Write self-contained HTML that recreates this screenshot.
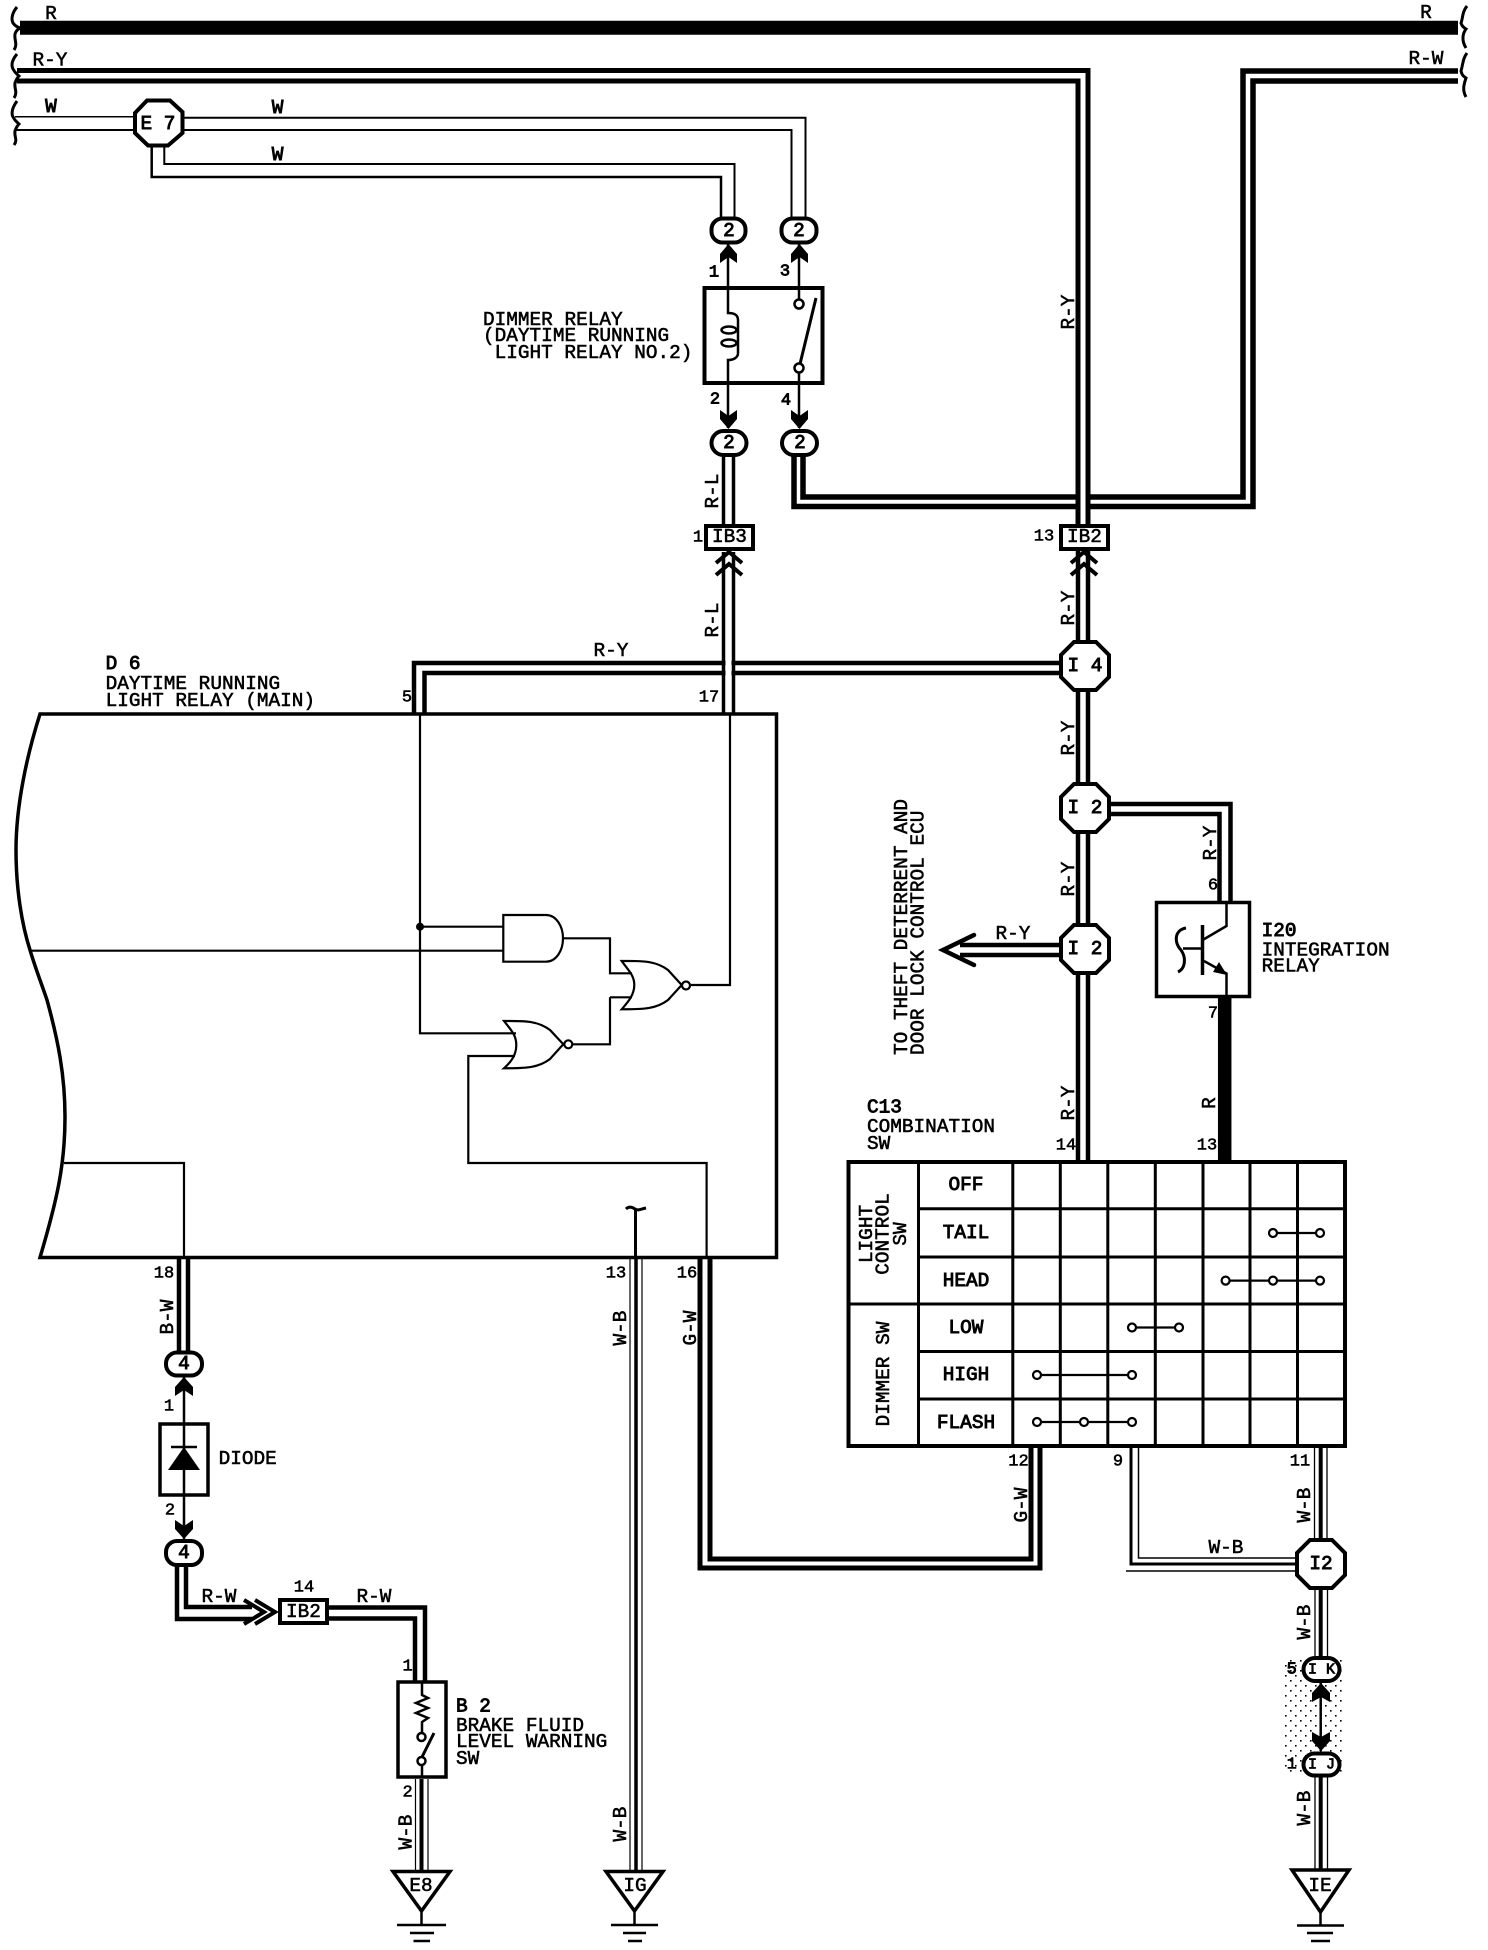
<!DOCTYPE html>
<html><head><meta charset="utf-8"><style>
html,body{margin:0;padding:0;background:#fff}
svg{display:block}
text{font-family:"Liberation Mono",monospace;font-size:19.4px;fill:#000;stroke:#000;stroke-width:.55;dominant-baseline:central}
.m{text-anchor:middle}
.b{stroke-width:.9}
.n{font-size:17px}
.k{font-size:15px;stroke-width:.8}
.w,.w path,.w line,.w polyline{fill:none;stroke:#000}
</style></head><body>
<svg width="1488" height="1950" viewBox="0 0 1488 1950" xmlns="http://www.w3.org/2000/svg">
<defs><pattern id="d" width="10" height="10" patternUnits="userSpaceOnUse"><rect width="1.6" height="1.6" fill="#000"/><rect x="5" y="5" width="1.6" height="1.6" fill="#000"/></pattern></defs>
<rect width="1488" height="1950" fill="#fff"/>

<!-- dotted area -->
<rect x="1284" y="1657" width="60" height="118" fill="url(#d)"/>

<g class="w">
<!-- braces -->
<g stroke-width="3">
<path d="M17 7 C12 13 11 19 13 23 C15 26 17 27 20 28 C17 30 16 31 15 34 C14 40 18 44 14 50"/>
<path d="M17 54 C12 60 11 65 13 69 C15 73 17 74 19 76 C17 78 16 80 15 83 C14 89 18 92 14 98"/>
<path d="M17 101 C12 108 11 113 13 117 C15 121 17 122 19 124 C17 126 16 128 15 131 C14 137 18 140 14 145"/>
<path d="M1467 6 C1462 12 1463 18 1461 23 C1462 26 1463 27 1466 29 C1463 33 1461 40 1466 48"/>
<path d="M1467 53 C1463 58 1463 64 1461 71 C1462 75 1463 76 1466 78 C1464 84 1462 90 1466 97"/>
</g>
<!-- R bus -->
<line x1="20" y1="27.700" x2="1458" y2="27.700" stroke-width="14"/>
<!-- R-Y -->
<g stroke-width="5">
<path d="M17 70.500H1088V525"/>
<path d="M17 81H1078V525"/>
<path d="M1458 71H1243V497H803V430" stroke-width="5.500"/>
<path d="M1458 81H1253V506.500H794V455" stroke-width="5.500"/>
</g>
<!-- W -->
<path d="M15 116.700H135" stroke-width="1.500"/>
<path d="M15 130H135" stroke-width="2"/>
<path d="M182 117.700H805.500V217" stroke-width="2"/>
<path d="M182 130H791.500V217" stroke-width="2"/>
<path d="M164.300 146V164H734.500V217" stroke-width="2"/>
<path d="M151.700 146V177H721V217" stroke-width="2.500"/>
<!-- R-L -->
<path d="M723.500 453V526M733.500 453V526" stroke-width="3.500"/>
</g>
<!-- crossing R-Y / horizontal -->
<rect x="1080.500" y="490" width="5" height="20" fill="#fff"/>

<g class="w" stroke-width="4.500">
<path d="M1078 549V1161M1088 549V1161"/>
<path d="M1060 663H414V713"/>
<path d="M1060 673H424.500V713"/>
<path d="M1105 804H1230.500V901"/>
<path d="M1105 814H1219.500V901"/>
<path d="M1060 945H960M1060 955H960"/>
<path d="M974 935L943 950L974 965" stroke-linecap="round"/>
<line x1="1224.700" y1="997" x2="1224.700" y2="1161" stroke-width="13.500"/>
</g>
<rect x="725.500" y="655" width="6" height="24" fill="#fff"/>
<g class="w" stroke-width="3.500"><path d="M723.500 552V713M733.500 552V713"/></g>

<!-- double chevrons -->
<g class="w" stroke-width="4">
<polyline points="1071,563 1084,552 1097,563"/>
<polyline points="1071,575 1084,564 1097,575"/>
<polyline points="716,563 729,552 742,563"/>
<polyline points="716,575 729,564 742,575"/>
<polyline points="255,1600 275,1612 255,1624"/>
<polyline points="244,1600 264,1612 244,1624"/>
</g>

<!-- Dimmer relay -->
<rect x="704.500" y="288" width="118" height="95" fill="none" stroke="#000" stroke-width="4"/>
<g class="w" stroke-width="2.500">
<path d="M728 243V313C733 313 738 314 738 320V353C738 358 733 360 728 360V428"/>
<ellipse cx="729" cy="330" rx="7.500" ry="3.500"/><ellipse cx="729" cy="343" rx="7.500" ry="3.500"/>
<line x1="799" y1="243" x2="799" y2="299"/><line x1="799" y1="373" x2="799" y2="428"/>
<line x1="800" y1="364" x2="816" y2="298" stroke-width="3"/>
</g>
<g fill="#fff" stroke="#000" stroke-width="2.500"><circle cx="799" cy="304" r="4.500"/><circle cx="799" cy="368" r="4.500"/></g>
<g fill="#000">
<polygon points="728.500,244 737,254 737,263 728.500,257 720,263 720,254"/>
<polygon points="799.500,244 808,254 808,263 799.500,257 791,263 791,254"/>
<polygon points="728.500,429 737,419 737,410 728.500,416 720,410 720,419"/>
<polygon points="799.500,429 808,419 808,410 799.500,416 791,410 791,419"/>
</g>
<!-- D6 box -->
<path d="M40 714H776.500V1257.500H40C57 1200 65 1165 65 1117C65 1075 58 1040 47 1000C42 985 36 970 30 950C22 925 16 890 16 850C16 805 27 755 40 714Z" fill="none" stroke="#000" stroke-width="3.500"/>
<g class="w" stroke-width="2.200">
<path d="M420 713V1033.300H516"/>
<path d="M420 926.700H503"/>
<path d="M30 950.700H503"/>
<path d="M503.300 915H546C556 915 563 926 563 938.300C563 951 556 961.700 546 961.700H503.300Z"/>
<path d="M563 938.300H610V973.300H632"/>
<path d="M610 997.300H632"/>
<path d="M610 997.300V1044.300H573"/>
<path d="M621.700 961C628 970 634.300 975 634.300 985C634.300 995 628 1002 621.700 1009.300C640 1009 655 1010 668 1000L681.700 985L668 970C655 960 640 961 621.700 961Z"/>
<path d="M691 985H730V713"/>
<path d="M504 1021C511 1030 516.300 1035 516.300 1045C516.300 1055 511 1062 504 1068.300C522 1068 537 1069 550 1059L563.300 1044.300L550 1030C537 1020 522 1021 504 1021Z"/>
<path d="M515 1056H468.300V1163H706.600V1257"/>
<path d="M64 1163H184V1257"/>
<path d="M635.500 1257V1209" stroke-width="3"/>
<path d="M626 1209C629 1206 632 1207 635 1209C638 1211 641 1209 646 1208" stroke-width="3"/>
</g>
<circle cx="420" cy="926.700" r="4" fill="#000"/>
<g fill="#fff" stroke="#000" stroke-width="2.200"><circle cx="686" cy="985.500" r="4"/><circle cx="568.300" cy="1044.300" r="4"/></g>

<!-- 18 wire, diode -->
<g class="w">
<path d="M179 1259V1352M188 1259V1352" stroke-width="4.500"/>
<line x1="184" y1="1377" x2="184" y2="1540" stroke-width="2.500"/>
<path d="M177 1566V1619H252M186 1566V1607H252" stroke-width="4.500"/>
<path d="M328 1607.500H425V1681M328 1618.500H415V1681" stroke-width="4.500"/>
<line x1="171" y1="1447" x2="197" y2="1447" stroke-width="2.500"/>
</g>
<rect x="160" y="1424" width="48" height="71" fill="none" stroke="#000" stroke-width="3.500"/>
<polygon points="184,1447 200,1470 168,1470" fill="#000"/>
<g fill="#000">
<polygon points="184,1377 193,1387 193,1396 184,1390 175,1396 175,1387"/>
<polygon points="184,1539 193,1529 193,1520 184,1526 175,1520 175,1529"/>
</g>
<!-- B2 -->
<rect x="398" y="1682" width="48" height="95" fill="none" stroke="#000" stroke-width="3.500"/>
<g class="w" stroke-width="2.500">
<path d="M422 1682V1695L428 1698L416 1703L428 1708L416 1713L428 1718L422 1722V1733"/>
<path d="M422 1741V1733M422 1757L434 1733" stroke-width="3"/>
<path d="M422 1765V1777"/>
</g>
<g fill="#fff" stroke="#000" stroke-width="2.500"><circle cx="421.500" cy="1737" r="4"/><circle cx="421.500" cy="1761" r="4"/></g>
<!-- W-B wires -->
<g class="w">
<path d="M415.500 1779V1871M428 1779V1871" stroke-width="1.200"/><path d="M421.500 1779V1871" stroke-width="4"/>
<path d="M630 1259V1871M642 1259V1871" stroke-width="1.200"/><path d="M636 1259V1871" stroke-width="3.500"/>
<!-- G-W -->
<path d="M700 1259V1568H1040V1448M710 1259V1559H1031V1448" stroke-width="5"/>
<!-- wire 9 -->
<path d="M1138.500 1448V1558H1296" stroke-width="1.500"/>
<path d="M1131 1448V1564H1296" stroke-width="3"/>
<path d="M1126 1571H1296" stroke-width="1.500"/>
<!-- 11 wire -->
<path d="M1314.500 1448V1539M1327 1448V1539M1315 1589V1658M1327.500 1589V1658M1315 1776V1869M1327.500 1776V1869" stroke-width="1.300"/>
<path d="M1320.700 1448V1539M1320.700 1589V1658M1320.700 1776V1869" stroke-width="4"/>
<line x1="1320.700" y1="1683" x2="1320.700" y2="1751" stroke-width="2.500"/>
</g>
<g fill="#000">
<polygon points="1321,1683 1330,1693 1330,1702 1321,1697 1312,1702 1312,1693"/>
<polygon points="1321,1751 1330,1741 1330,1732 1321,1737 1312,1732 1312,1741"/>
</g>

<!-- grounds -->
<g fill="#fff" stroke="#000" stroke-width="3.500">
<polygon points="393,1871.500 450,1871.500 421.500,1911"/>
<polygon points="606,1871.500 663,1871.500 634.500,1911"/>
<polygon points="1292,1870 1349,1870 1320.500,1912"/>
</g>
<g class="w" stroke-width="2.500">
<path d="M421.500 1911V1925M397 1925H446M410 1933H434M413.500 1941H430"/>
<path d="M634.500 1911V1925M611 1925H658M623 1933H646M628 1941H642"/>
<path d="M1320.500 1912V1925.500M1297 1925.500H1344M1307 1933H1333M1311 1941H1330"/>
</g>

<!-- octagons -->
<g fill="#fff" stroke="#000" stroke-width="4">
<polygon points="147,100.500 170,100.500 182.500,112 182.500,133 168,145.500 148,145.500 135,133 135,113"/>
<polygon points="1074,642 1096,642 1109,655 1109,677 1096,690 1074,690 1061,677 1061,655"/>
<polygon points="1074,784 1096,784 1109,797 1109,819 1096,832 1074,832 1061,819 1061,797"/>
<polygon points="1074,925 1096,925 1109,938 1109,960 1096,973 1074,973 1061,960 1061,938"/>
<polygon points="1310,1540 1332,1540 1345,1553 1345,1575 1332,1588 1310,1588 1297,1575 1297,1553"/>
<!-- connectors -->
<rect x="711.500" y="218.500" width="34" height="24" rx="11"/>
<rect x="781.500" y="218.500" width="35" height="24" rx="11"/>
<rect x="711.500" y="431" width="35" height="24" rx="12"/>
<rect x="782" y="431" width="35" height="24" rx="12"/>
<rect x="166" y="1352.500" width="36" height="23" rx="11"/>
<rect x="166" y="1541" width="36" height="24" rx="11"/>
<rect x="1303.500" y="1658" width="36" height="23" rx="11.500"/>
<rect x="1303.500" y="1753.500" width="36" height="22" rx="11"/>
<!-- IB boxes -->
<rect x="706" y="526" width="47" height="23"/>
<rect x="1061" y="526" width="47" height="23"/>
<rect x="280" y="1600" width="47" height="23"/>
<!-- transistor box -->
<rect x="1156.500" y="902.500" width="93" height="94" stroke-width="3.500"/>
</g>
<!-- transistor -->
<g class="w" stroke-width="2.500">
<path d="M1226.500 904V926L1203.500 939.500"/>
<path d="M1202.500 925V975" stroke-width="3.500"/>
<path d="M1183 948.500H1202.500"/>
<path d="M1204 961L1226.500 973.500V995"/>
<path d="M1186 928C1174 930 1174 943 1181 950C1186 957 1186 968 1178 972" stroke-width="3"/>
</g>
<polygon points="1227,975 1213,972 1219,962" fill="#000"/>

<!-- grid -->
<g class="w" stroke-width="3">
<path d="M918.500 1161V1446M1012.800 1161V1446M1060.300 1161V1446M1107.800 1161V1446M1155.300 1161V1446M1203 1161V1446M1250 1161V1446M1297.500 1161V1446"/>
<path d="M918.500 1208.700H1345M918.500 1257H1345M847 1304H1345M918.500 1351.500H1345M918.500 1399H1345"/>
<rect x="848.500" y="1162" width="496.500" height="284" stroke-width="4"/>
<path d="M1273 1233H1320M1225.600 1280.600H1320M1132 1327.500H1179M1037 1375H1132M1037 1422H1132" stroke-width="2.200"/>
</g>
<g fill="#fff" stroke="#000" stroke-width="2.200">
<circle cx="1273" cy="1233" r="4"/><circle cx="1320" cy="1233" r="4"/>
<circle cx="1225.600" cy="1280.600" r="4"/><circle cx="1273" cy="1280.600" r="4"/><circle cx="1320" cy="1280.600" r="4"/>
<circle cx="1132" cy="1327.500" r="4"/><circle cx="1179" cy="1327.500" r="4"/>
<circle cx="1037" cy="1375" r="4"/><circle cx="1132" cy="1375" r="4"/>
<circle cx="1037" cy="1422" r="4"/><circle cx="1084" cy="1422" r="4"/><circle cx="1132" cy="1422" r="4"/>
</g>

<!-- TEXT -->
<g>
<text class="m" x="51" y="14">R</text><text class="m" x="1426" y="13">R</text>
<text class="m" x="50" y="60.500">R-Y</text><text class="m" x="1426" y="59">R-W</text>
<text class="m b" x="51" y="107">W</text><text class="m b" x="277.600" y="108">W</text><text class="m b" x="277.600" y="155">W</text>
<text class="m b" x="158" y="124">E 7</text>
<text x="483" y="320">DIMMER RELAY</text>
<text x="483" y="336">(DAYTIME RUNNING</text>
<text x="494.600" y="353">LIGHT RELAY NO.2)</text>
<text class="m b" x="729" y="231">2</text><text class="m b" x="799" y="231">2</text>
<text class="m b" x="729" y="443">2</text><text class="m b" x="800" y="443">2</text>
<text class="m b n" x="714" y="273">1</text><text class="m b n" x="785" y="272">3</text>
<text class="m b n" x="715" y="400">2</text><text class="m b n" x="786" y="401">4</text>

<text class="m" x="713" y="491" transform="rotate(-90 713 491)">R-L</text>
<text class="m" x="713" y="620" transform="rotate(-90 713 620)">R-L</text>
<text class="m" x="1069" y="312" transform="rotate(-90 1069 312)">R-Y</text>
<text class="m" x="1069" y="608" transform="rotate(-90 1069 608)">R-Y</text>
<text class="m" x="1069" y="738" transform="rotate(-90 1069 738)">R-Y</text>
<text class="m" x="1069" y="879" transform="rotate(-90 1069 879)">R-Y</text>
<text class="m" x="1069" y="1103" transform="rotate(-90 1069 1103)">R-Y</text>
<text class="m" x="1211" y="843" transform="rotate(-90 1211 843)">R-Y</text>
<text class="m" x="1210" y="1103" transform="rotate(-90 1210 1103)">R</text>

<text class="m n" x="698" y="538">1</text>
<text class="m" x="729.500" y="537">IB3</text>
<text class="m n" x="1044" y="537">13</text>
<text class="m" x="1084.500" y="537">IB2</text>

<text class="m" x="611" y="651">R-Y</text>
<text class="b" x="105.600" y="664">D 6</text>
<text x="105.600" y="684">DAYTIME RUNNING</text>
<text x="105.600" y="701">LIGHT RELAY (MAIN)</text>
<text class="m n" x="407" y="698">5</text><text class="m n" x="709" y="698">17</text>

<text class="m b" x="1085" y="666">I 4</text><text class="m b" x="1085" y="808">I 2</text><text class="m b" x="1085" y="949">I 2</text>
<text class="m" x="1013" y="934">R-Y</text>
<text x="902" y="1055" transform="rotate(-90 902 1055)">TO THEFT DETERRENT AND</text>
<text x="918.500" y="1055" transform="rotate(-90 918.500 1055)">DOOR LOCK CONTROL ECU</text>
<text class="m n" x="1213" y="886">6</text><text class="m n" x="1213" y="1014">7</text>
<text class="b" x="1261.600" y="931">I20</text>
<text x="1261.600" y="950.500">INTEGRATION</text>
<text x="1261.600" y="966.500">RELAY</text>
<text class="b" x="867" y="1107.500">C13</text>
<text x="867" y="1127">COMBINATION</text>
<text x="867" y="1144">SW</text>
<text class="m n" x="1066" y="1146">14</text><text class="m n" x="1207" y="1146">13</text>

<text class="m b" x="966" y="1185">OFF</text><text class="m b" x="966" y="1233">TAIL</text><text class="m b" x="966" y="1281">HEAD</text>
<text class="m b" x="966" y="1328">LOW</text><text class="m b" x="966" y="1375">HIGH</text><text class="m b" x="966" y="1423">FLASH</text>
<text class="m" x="867" y="1234" transform="rotate(-90 867 1234)">LIGHT</text>
<text class="m" x="883.500" y="1234" transform="rotate(-90 883.500 1234)">CONTROL</text>
<text class="m" x="901" y="1234" transform="rotate(-90 901 1234)">SW</text>
<text class="m" x="884" y="1374" transform="rotate(-90 884 1374)">DIMMER SW</text>

<text class="m n" x="164" y="1274">18</text><text class="m n" x="616" y="1274">13</text><text class="m n" x="687" y="1274">16</text>
<text class="m" x="168" y="1317" transform="rotate(-90 168 1317)">B-W</text>
<text class="m" x="621" y="1328" transform="rotate(-90 621 1328)">W-B</text>
<text class="m" x="621" y="1824" transform="rotate(-90 621 1824)">W-B</text>
<text class="m" x="691" y="1328" transform="rotate(-90 691 1328)">G-W</text>
<text class="m b" x="184" y="1364">4</text><text class="m b" x="184" y="1553">4</text>
<text class="m n" x="169" y="1407">1</text><text class="m n" x="170" y="1511">2</text>
<text x="218.600" y="1459">DIODE</text>
<text class="m" x="219" y="1597">R-W</text><text class="m" x="374" y="1597">R-W</text>
<text class="m n" x="304" y="1588">14</text>
<text class="m" x="303.500" y="1612">IB2</text>
<text class="m n" x="407.600" y="1667">1</text><text class="m n" x="407.600" y="1793">2</text>
<text class="b" x="456" y="1706.600">B 2</text>
<text x="456" y="1726">BRAKE FLUID</text>
<text x="456" y="1742">LEVEL WARNING</text>
<text x="456" y="1759">SW</text>
<text class="m" x="406.400" y="1832" transform="rotate(-90 406.400 1832)">W-B</text>
<text class="m" x="421" y="1886">E8</text><text class="m" x="635" y="1886">IG</text><text class="m" x="1320" y="1886">IE</text>

<text class="m n" x="1018.500" y="1462">12</text>
<text class="m" x="1022" y="1505" transform="rotate(-90 1022 1505)">G-W</text>
<text class="m n" x="1118" y="1462">9</text>
<text class="m n" x="1300" y="1462">11</text>
<text class="m" x="1305" y="1505" transform="rotate(-90 1305 1505)">W-B</text>
<text class="m" x="1226" y="1548">W-B</text>
<text class="m b" x="1321" y="1564">I2</text>
<text class="m" x="1305" y="1622" transform="rotate(-90 1305 1622)">W-B</text>
<text class="m" x="1305" y="1808" transform="rotate(-90 1305 1808)">W-B</text>
<text class="m n b" x="1291.700" y="1670">5</text>
<text class="m n" x="1291.700" y="1765">1</text>
<text class="m k" x="1321.500" y="1670">I K</text>
<text class="m k" x="1321.500" y="1765">I J</text>
</g>
</svg>
</body></html>
